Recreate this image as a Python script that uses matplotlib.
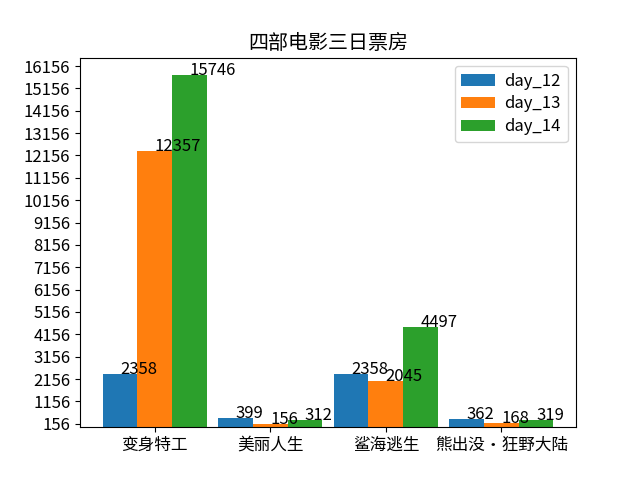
import numpy as np
import matplotlib
matplotlib.use('Agg')
import matplotlib.pyplot as plt

plt.rcParams['font.family'] = ['Noto Sans CJK SC', 'DejaVu Sans']
plt.rcParams['font.size'] = 12
plt.rcParams['axes.unicode_minus'] = False

# 数据
movies = ['变身特工', '美丽人生', '鲨海逃生', '熊出没・狂野大陆']
day_12 = [2358, 399, 2358, 362]
day_13 = [12357, 156, 2045, 168]
day_14 = [15746, 312, 4497, 319]

x = np.arange(len(movies))
width = 0.3

plt.figure(figsize=(6.4, 4.8), dpi=100)
plt.bar(x - width, day_12, width=width, label='day_12')
plt.bar(x, day_13, width=width, label='day_13')
plt.bar(x + width, day_14, width=width, label='day_14')

# 柱子上标数值
for xs, vals in zip([x - width, x, x + width], [day_12, day_13, day_14]):
    for a, b in zip(xs, vals):
        plt.text(a, b, str(b))

plt.xticks(x, movies)
plt.yticks(range(min(day_13), max(day_14) + 1000, 1000))
plt.title('四部电影三日票房')
plt.legend(labelspacing=0.35, handletextpad=0.6)
plt.savefig('out.png')
